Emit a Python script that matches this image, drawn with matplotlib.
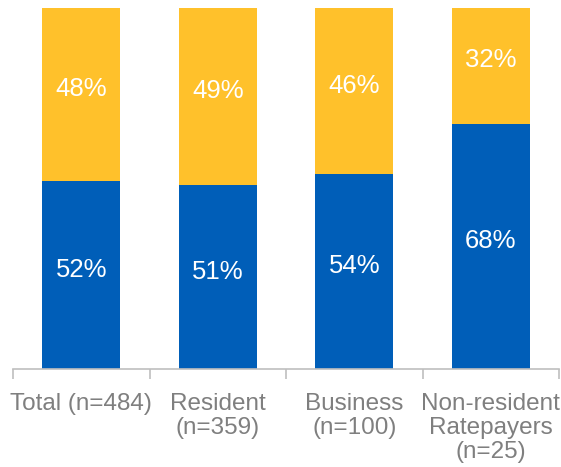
import matplotlib
matplotlib.use("Agg")
import matplotlib.pyplot as plt
import numpy as np

categories = ["Total (n=484)", "Resident\n(n=359)", "Business\n(n=100)", "Non-resident\nRatepayers\n(n=25)"]
blue_vals = [52, 51, 54, 68]
yellow_vals = [48, 49, 46, 32]

plt.rcParams['font.family'] = ['Liberation Sans', 'DejaVu Sans']

fig = plt.figure(figsize=(5.61, 4.67), dpi=100)
ax = fig.add_axes([13/561, 98/467, 546/561, 361/467])

x = np.arange(len(categories))
w = 0.57
blue = "#005EB8"
yellow = "#FFC12B"
ax.bar(x, blue_vals, w, color=blue)
ax.bar(x, yellow_vals, w, bottom=blue_vals, color=yellow)

for i in range(len(categories)):
    ax.text(x[i], blue_vals[i] / 2 + 1.5, f"{blue_vals[i]}%", ha="center", va="center",
            color="white", fontsize=18.5)
    ax.text(x[i], blue_vals[i] + yellow_vals[i] / 2 + 1.5, f"{yellow_vals[i]}%", ha="center", va="center",
            color="white", fontsize=18.5)

ax.set_xlim(-0.5, len(categories) - 0.5)
ax.set_ylim(0, 100)
ax.set_yticks([])
for s in ["top", "right", "left"]:
    ax.spines[s].set_visible(False)
ax.spines["bottom"].set_color("#BFBFBF")
ax.spines["bottom"].set_linewidth(1.2)

ax.set_xticks(x)
ax.set_xticklabels(categories, color="#7F7F7F", fontsize=17.5, linespacing=1.13, va="top")
ax.tick_params(axis="x", which="major", length=0, pad=17)
ax.set_xticks(np.arange(-0.5, len(categories)), minor=True)
ax.tick_params(axis="x", which="minor", length=7, color="#BFBFBF", width=1.2)

fig.savefig("out.png", dpi=100)
